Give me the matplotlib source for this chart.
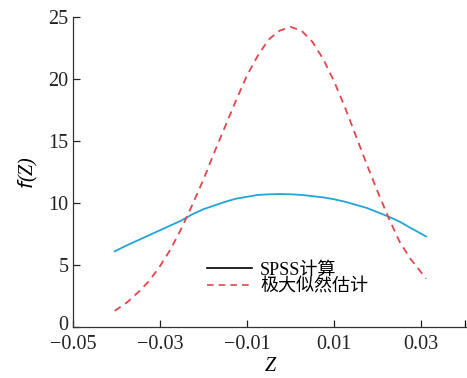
import matplotlib
matplotlib.use("Agg")
import matplotlib.pyplot as plt
import matplotlib.transforms as mtransforms
from matplotlib.lines import Line2D

plt.rcParams['font.family'] = ['Liberation Serif', 'Noto Sans CJK SC']
plt.rcParams['axes.unicode_minus'] = True

z = [-0.0404, -0.0375, -0.035, -0.0325, -0.03, -0.0275, -0.025, -0.0225, -0.02,
     -0.0175, -0.015, -0.0125, -0.01, -0.0075, -0.005, -0.0025, 0.0, 0.0025,
     0.005, 0.0075, 0.01, 0.0125, 0.015, 0.0175, 0.02, 0.0225, 0.025, 0.0275, 0.0311]
spss = [6.1, 6.6, 7.0, 7.4, 7.8, 8.2, 8.6, 9.1, 9.5, 9.8, 10.1, 10.35, 10.5, 10.65,
        10.7, 10.72, 10.7, 10.65, 10.55, 10.45, 10.3, 10.1, 9.85, 9.6, 9.25, 8.9,
        8.5, 8.0, 7.3]
mle = [1.3, 2.0, 2.8, 3.7, 4.9, 6.3, 8.0, 9.9, 11.9, 14.1, 16.2, 18.3, 20.3, 21.9,
       23.2, 23.9, 24.2, 23.9, 23.0, 21.6, 19.8, 17.7, 15.4, 13.1, 10.9, 8.8, 6.9,
       5.5, 3.9]
xticks = [-0.05, -0.03, -0.01, 0.01, 0.03]
xticklabels = ['\u22120.05', '\u22120.03', '\u22120.01', '0.01', '0.03']
yticks = [0, 5, 10, 15, 20, 25]
labels = ['SPSS计算', '极大似然估计']

fig = plt.figure(figsize=(4.67, 3.78), dpi=100)
ax = fig.add_axes([0.156, 0.135, 0.844, 0.82])

ax.plot(z, spss, color='#22a5d6', lw=1.3)
ax.plot(z, mle, color='#e0464b', lw=1.3, ls=(0, (4, 3)))

ax.set_xlim(-0.05, 0.0405)
ax.set_ylim(0, 25)
ax.set_xticks(xticks)
ax.set_xticklabels(xticklabels)
ax.set_xticks([0.04], minor=True)
ax.set_yticks(yticks)
ax.tick_params(direction='in', length=5, width=0.9, labelsize=14.5, colors='#222222')
ax.tick_params(axis='x', pad=6)
ax.tick_params(axis='y', pad=3)
ax.tick_params(which='minor', direction='in', length=5, width=0.9)
for s in ['top', 'right']:
    ax.spines[s].set_visible(False)
for s in ['left', 'bottom']:
    ax.spines[s].set_linewidth(0.9)
    ax.spines[s].set_color('#333333')

# nudge the "0" y label slightly upward, as in the reference
lbl0 = ax.get_yticklabels()[0]
lbl0.set_transform(lbl0.get_transform() + mtransforms.ScaledTranslation(0, 3 / 72, fig.dpi_scale_trans))

ax.set_ylabel('$f$(Z)', fontsize=14.5, fontstyle='italic', labelpad=6)
ax.set_xlabel('Z', fontsize=14.5, fontstyle='italic', labelpad=2)

handles = [Line2D([], [], color='black', lw=1.2),
           Line2D([], [], color='#e0464b', lw=1.2, ls=(0, (4, 3)))]
ax.legend(handles, labels, loc='upper left', bbox_to_anchor=(0.317, 0.24),
          frameon=False, fontsize=13, handlelength=2.5, handletextpad=0.45,
          labelspacing=0.0, borderpad=0)

fig.savefig('out.png', dpi=100)
